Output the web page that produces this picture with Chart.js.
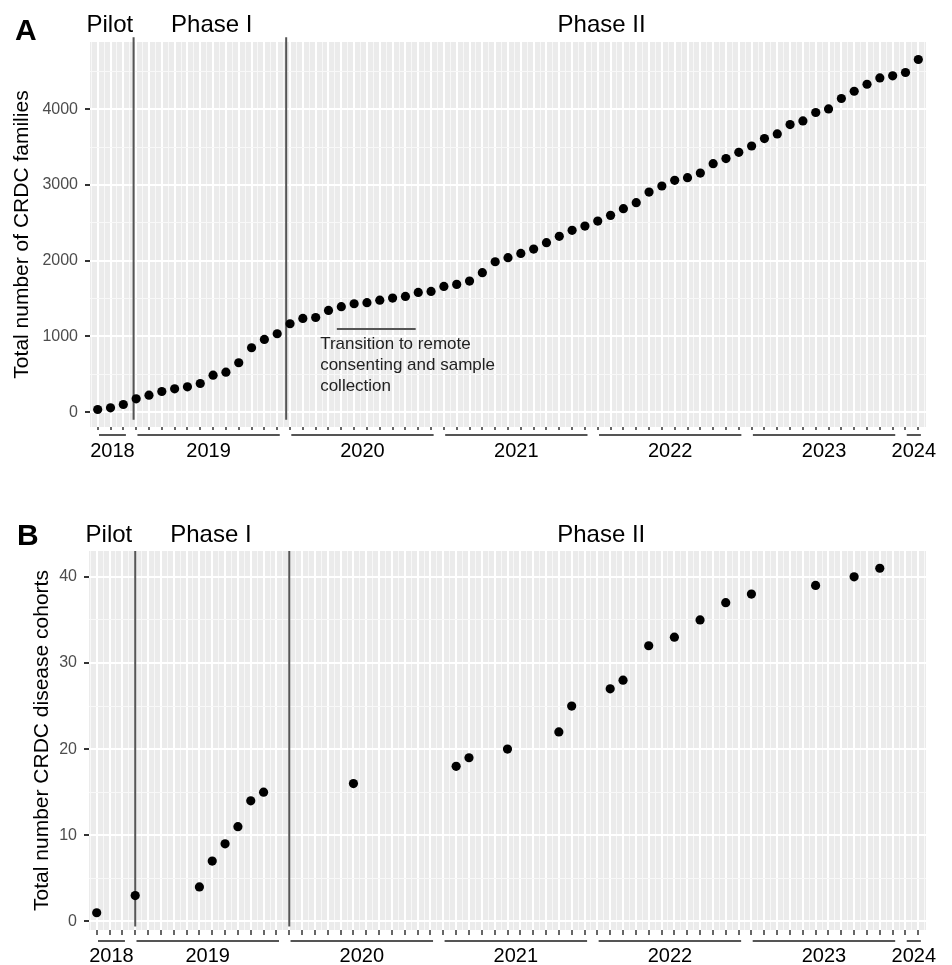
<!DOCTYPE html>
<html lang="en">
<head>
<meta charset="UTF-8">
<title>CRDC families and disease cohorts</title>
<script src="https://cdn.jsdelivr.net/npm/chart.js@4.4.1/dist/chart.umd.min.js"></script>
<style>
    html, body { margin: 0; padding: 0; background: #fff; }
    canvas { display: block; }
</style>
</head>
<body>
<canvas id="chartA" width="952" height="482"></canvas>
<canvas id="chartB" width="952" height="483"></canvas>
<script>
// one category per month on the x axis
const months = [
    'Oct 2018', 'Nov 2018', 'Dec 2018',
    'Jan 2019', 'Feb 2019', 'Mar 2019', 'Apr 2019', 'May 2019', 'Jun 2019', 'Jul 2019', 'Aug 2019', 'Sep 2019', 'Oct 2019', 'Nov 2019', 'Dec 2019',
    'Jan 2020', 'Feb 2020', 'Mar 2020', 'Apr 2020', 'May 2020', 'Jun 2020', 'Jul 2020', 'Aug 2020', 'Sep 2020', 'Oct 2020', 'Nov 2020', 'Dec 2020',
    'Jan 2021', 'Feb 2021', 'Mar 2021', 'Apr 2021', 'May 2021', 'Jun 2021', 'Jul 2021', 'Aug 2021', 'Sep 2021', 'Oct 2021', 'Nov 2021', 'Dec 2021',
    'Jan 2022', 'Feb 2022', 'Mar 2022', 'Apr 2022', 'May 2022', 'Jun 2022', 'Jul 2022', 'Aug 2022', 'Sep 2022', 'Oct 2022', 'Nov 2022', 'Dec 2022',
    'Jan 2023', 'Feb 2023', 'Mar 2023', 'Apr 2023', 'May 2023', 'Jun 2023', 'Jul 2023', 'Aug 2023', 'Sep 2023', 'Oct 2023', 'Nov 2023', 'Dec 2023',
    'Jan 2024', 'Feb 2024'
];
const years = ['2018', '2019', '2020', '2021', '2022', '2023', '2024'];

// panel A: total families, one value per month
const families = [
    36, 58, 102,
    177, 225, 274, 309, 336, 379, 489, 529, 653, 851, 961, 1036,
    1168, 1238, 1251, 1344, 1393, 1432, 1446, 1480, 1507, 1529, 1582, 1595,
    1661, 1688, 1731, 1842, 1987, 2040, 2097, 2154, 2238, 2322, 2401, 2458,
    2524, 2599, 2688, 2767, 2907, 2987, 3062, 3097, 3158, 3282, 3349, 3432,
    3515, 3613, 3674, 3798, 3846, 3957, 4005, 4142, 4238, 4330, 4414, 4441,
    4485, 4657
];
const familyTicks = [0, 1000, 2000, 3000, 4000];

// panel B: disease cohorts, only months where the count changed
const cohortMonths = [
    'Oct 2018', 'Jan 2019', 'Jun 2019', 'Jul 2019', 'Aug 2019', 'Sep 2019', 'Oct 2019', 'Nov 2019',
    'Jun 2020', 'Feb 2021', 'Mar 2021', 'Jun 2021', 'Oct 2021', 'Nov 2021', 'Feb 2022', 'Mar 2022',
    'May 2022', 'Jul 2022', 'Sep 2022', 'Nov 2022', 'Jan 2023', 'Jun 2023', 'Sep 2023', 'Nov 2023'
];
const cohortCounts = [1, 3, 4, 7, 9, 11, 14, 15, 16, 18, 19, 20, 22, 25, 27, 28, 32, 33, 35, 37, 38, 39, 40, 41];
const cohortTicks = [0, 10, 20, 30, 40];

// phase boundaries (month index) and labels
const phaseNames = ['Pilot', 'Phase I', 'Phase II'];
const phaseLabelX = [0.95, 8.9, 39.3];
const phaseLinesA = [2.8, 14.7];
const phaseLinesB = [3, 15];

// annotation in panel A
const noteText = ['Transition to remote', 'consenting and sample', 'collection'];
const noteLineX = [18.65, 24.8];
const noteLineY = 1100;
const noteTextX = 17.35;
const noteTextY = 834;

const FONT = '"Liberation Sans", Arial, Helvetica, sans-serif';

function isWhole(v) {
    return Math.abs(v - Math.round(v)) < 1e-6;
}

// ggplot-ish decorations: grey panel, year brackets, phase labels, panel letter
const ggDecor = {
    id: 'ggDecor',
    beforeDraw(chart) {
        const {ctx, chartArea: a} = chart;
        ctx.save();
        ctx.fillStyle = '#EBEBEB';
        ctx.fillRect(a.left, a.top, a.right - a.left, a.bottom - a.top);
        ctx.restore();
    },
    afterDraw(chart, args, opts) {
        const {ctx, chartArea: a} = chart;
        const xs = chart.scales.x;
        const ys = chart.scales.y;
        ctx.save();

        // year groups under the month ticks
        ctx.strokeStyle = '#555555';
        ctx.lineWidth = 2;
        ctx.fillStyle = '#000000';
        ctx.font = '20px ' + FONT;
        ctx.textAlign = 'center';
        ctx.textBaseline = 'alphabetic';
        years.forEach(yr => {
            const idx = months.map((m, i) => m.endsWith(yr) ? i : -1).filter(i => i >= 0);
            const x0 = xs.getPixelForValue(idx[0] + 0.1);
            const x1 = xs.getPixelForValue(idx[idx.length - 1] + 0.2);
            ctx.beginPath();
            ctx.moveTo(x0, a.bottom + opts.bracketGap);
            ctx.lineTo(x1, a.bottom + opts.bracketGap);
            ctx.stroke();
            ctx.fillText(yr, (x0 + x1) / 2, a.bottom + opts.yearGap);
        });

        // phase names above the panel
        ctx.font = '24px ' + FONT;
        phaseNames.forEach((p, i) => {
            ctx.fillText(p, xs.getPixelForValue(phaseLabelX[i]), a.top - opts.phaseGap);
        });

        // panel letter
        ctx.font = 'bold 30px ' + FONT;
        ctx.textAlign = 'left';
        ctx.fillText(opts.letter, opts.letterX, opts.letterY);

        // annotation text
        if (opts.note) {
            ctx.font = '17px ' + FONT;
            ctx.fillStyle = '#222222';
            const tx = xs.getPixelForValue(noteTextX);
            const ty = ys.getPixelForValue(noteTextY);
            noteText.forEach((t, i) => ctx.fillText(t, tx, ty + i * 21));
        }
        ctx.restore();
    }
};

function segment(points) {
    return {
        data: points,
        showLine: true,
        borderColor: '#555555',
        borderWidth: 2,
        pointRadius: 0,
        clip: false,
        order: 1
    };
}

function dots(points) {
    return {
        data: points,
        backgroundColor: '#000000',
        borderColor: '#000000',
        borderWidth: 0,
        pointRadius: 4.6,
        order: 0
    };
}

function makeChart(id, cfg) {
    const major = cfg.yTicks[1] - cfg.yTicks[0];
    const isMajor = v => cfg.yTicks.some(t => Math.abs(t - v) < 1e-6);
    return new Chart(document.getElementById(id), {
        type: 'scatter',
        data: { datasets: cfg.datasets },
        options: {
            responsive: false,
            animation: false,
            events: [],
            layout: { padding: cfg.padding },
            plugins: {
                legend: { display: false },
                tooltip: { enabled: false },
                ggDecor: cfg.decor
            },
            scales: {
                x: {
                    type: 'linear',
                    min: -0.6,
                    max: months.length - 0.4,
                    border: { display: false },
                    ticks: { display: false, stepSize: 0.5, includeBounds: false, autoSkip: false },
                    grid: {
                        color: c => isWhole(c.tick.value) ? '#FFFFFF' : '#F8F8F8',
                        lineWidth: c => isWhole(c.tick.value) ? 2 : 1,
                        tickColor: c => isWhole(c.tick.value) ? '#333333' : 'rgba(0,0,0,0)',
                        tickWidth: 1.5,
                        tickLength: cfg.xTickLength
                    },
                    afterFit: s => { s.height = cfg.xAxisHeight; }
                },
                y: {
                    min: cfg.yMin,
                    max: cfg.yMax,
                    border: { display: false },
                    title: {
                        display: true,
                        text: cfg.yTitle,
                        color: '#000000',
                        padding: { top: 0, bottom: 0 },
                        font: { family: FONT, size: 21 }
                    },
                    // major ticks from the tick array, minor ones halfway between
                    afterBuildTicks: s => {
                        const vals = [];
                        cfg.yTicks.forEach(t => { vals.push(t); vals.push(t + major / 2); });
                        s.ticks = vals.filter(v => v >= s.min && v <= s.max).map(v => ({ value: v }));
                    },
                    ticks: {
                        autoSkip: false,
                        padding: 7,
                        color: '#4D4D4D',
                        font: { family: FONT, size: 16 },
                        callback: v => isMajor(v) ? String(v) : ''
                    },
                    grid: {
                        color: c => isMajor(c.tick.value) ? '#FFFFFF' : '#F8F8F8',
                        lineWidth: c => isMajor(c.tick.value) ? 2 : 1,
                        tickColor: c => isMajor(c.tick.value) ? '#333333' : 'rgba(0,0,0,0)',
                        tickWidth: 2,
                        tickLength: 5
                    },
                    afterFit: s => { s.width = cfg.yAxisWidth; }
                }
            }
        },
        plugins: [ggDecor]
    });
}

// Panel A
const chartA = makeChart('chartA', {
    datasets: [
        dots(families.map((v, i) => ({ x: i, y: v }))),
        ...phaseLinesA.map(px => segment([{ x: px, y: 4950 }, { x: px, y: -100 }])),
        segment([{ x: noteLineX[0], y: noteLineY }, { x: noteLineX[1], y: noteLineY }])
    ],
    padding: { top: 42, bottom: 15, left: 10, right: 26 },
    yMin: -195, yMax: 4888, yTicks: familyTicks,
    yTitle: 'Total number of CRDC families',
    yAxisWidth: 80, xAxisHeight: 40, xTickLength: 3,
    decor: { letter: 'A', letterX: 15, letterY: 40, phaseGap: 10, bracketGap: 8, yearGap: 30, note: true }
});

// Panel B
const chartB = makeChart('chartB', {
    datasets: [
        dots(cohortMonths.map((m, i) => ({ x: months.indexOf(m), y: cohortCounts[i] }))),
        ...phaseLinesB.map(px => segment([{ x: px, y: 43 }, { x: px, y: -0.6 }]))
    ],
    padding: { top: 69, bottom: 5, left: 30, right: 26 },
    yMin: -1, yMax: 43, yTicks: cohortTicks,
    yTitle: 'Total number CRDC disease cohorts',
    yAxisWidth: 59, xAxisHeight: 30, xTickLength: 5,
    decor: { letter: 'B', letterX: 17, letterY: 63, phaseGap: 9, bracketGap: 11, yearGap: 32, note: false }
});
</script>
</body>
</html>
